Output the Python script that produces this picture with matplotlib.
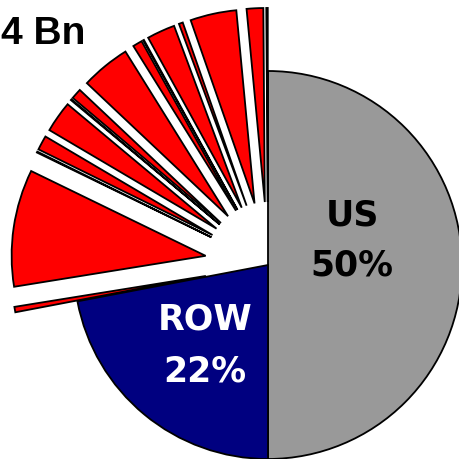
import matplotlib.pyplot as plt

# Shares in percent, in drawing order (clockwise from 12 o'clock)
labels = ['US', 'ROW']
main_values = [50, 22]
main_colors = ['#999999', '#000080']

# Small red country slices, from the one next to ROW up to 12 o'clock
red_values = [0.45, 9.75, 0.08, 1.2, 2.6, 0.08, 0.87, 4.1, 0.78, 0.08,
              2.34, 0.33, 3.84, 1.38, 0.12]

values = main_values + red_values
colors = main_colors + ['#FF0000'] * len(red_values)
explode = [0, 0] + [0.325] * len(red_values)

fig = plt.figure(figsize=(4.59, 4.59), dpi=100)
ax = fig.add_axes([0, 0, 1, 1])
ax.pie(values, colors=colors, explode=explode, startangle=90, counterclock=False,
       radius=1, wedgeprops=dict(edgecolor='black', linewidth=1.3))

# put the pie centre at pixel (268, 265) with radius 194 px
ax.set_xlim(-268 / 194, (459 - 268) / 194)
ax.set_ylim(-(459 - 265) / 194, 265 / 194)
ax.set_aspect('equal')
ax.axis('off')

font = dict(fontsize=25, fontweight='bold', family='DejaVu Sans', ha='center', va='baseline')
ax.text(0.433, 0.206, 'US', color='black', **font)
ax.text(0.433, -0.052, '50%', color='black', **font)
ax.text(-0.325, -0.335, 'ROW', color='white', **font)
ax.text(-0.325, -0.598, '22%', color='white', **font)

fig.text(1 / 459, 1 - 44 / 459, '4 Bn', fontsize=28, fontweight='bold',
         family='Liberation Sans', ha='left', va='baseline')

fig.savefig('out.png', dpi=100)
